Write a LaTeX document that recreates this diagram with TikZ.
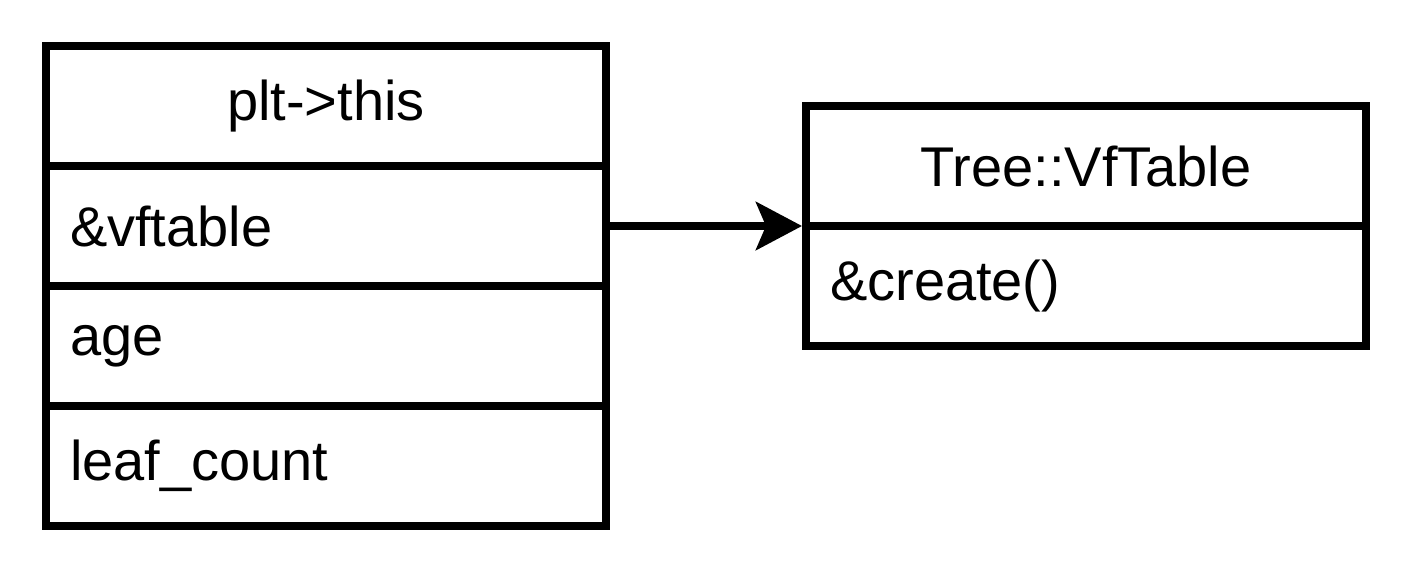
\documentclass[tikz,border=0pt]{standalone}
\usepackage{fontspec}
\setmainfont{Liberation Sans}
\usetikzlibrary{arrows.meta}
\begin{document}
\begin{tikzpicture}[x=0.5pt,y=-0.5pt,
  font=\fontsize{28pt}{33pt}\selectfont,
  rowbox/.style={draw=black, line width=4pt, fill=white, minimum width=280pt, minimum height=60pt,
    inner xsep=12pt, inner ysep=0pt, text width=256pt, align=left, anchor=center},
  titlebox/.style={rowbox, align=center},
  link/.style={line width=4pt, -{Stealth[length=23pt, width=24pt, inset=5pt]}}]
\useasboundingbox (0,0) rectangle (1408,568);
\node[titlebox] (ltitle) at (326,106) {plt->this};
\node[rowbox] (vf) at (326,226) {\&vftable};
\node[rowbox] (age) at (326,346) {age};
\node[rowbox] (leaf) at (326,466) {leaf\_count};
\node[titlebox] (rtitle) at (1086,166) {Tree::VfTable};
\node[rowbox] (create) at (1086,286) {\&create()};
\draw[link] (vf.east) -- (vf.east -| rtitle.west);
\end{tikzpicture}
\end{document}
